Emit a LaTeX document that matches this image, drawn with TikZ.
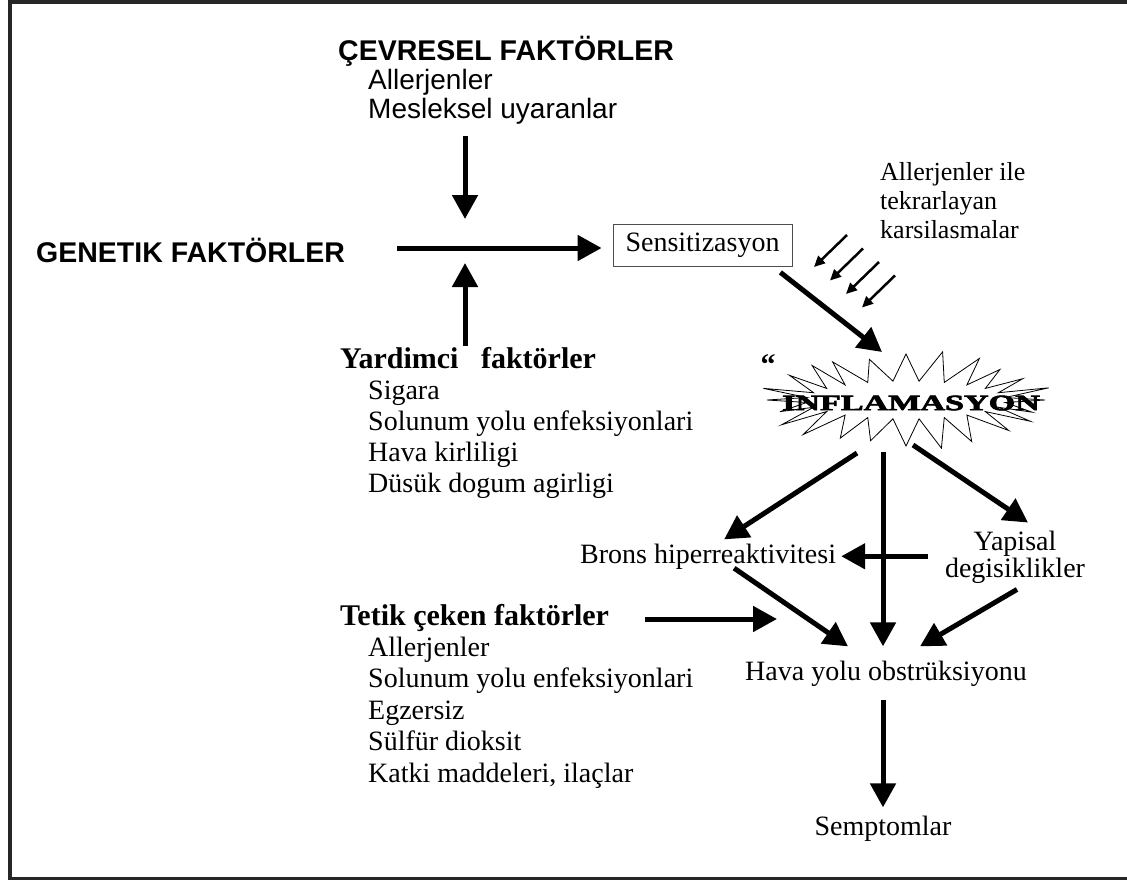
\documentclass[tikz,border=0pt]{standalone}
\usepackage{fontspec}
\setmainfont{Liberation Serif}
\setsansfont{Liberation Sans}
\newfontfamily\burstfont{Liberation Serif Bold}[FakeBold=2.5]
\usetikzlibrary{arrows.meta}

\begin{document}
\begin{tikzpicture}[x=1pt, y=-1pt,
  every node/.style={inner sep=0pt},
  txt/.style={anchor=base west, font=\fontsize{28}{31}\selectfont},
  ctxt/.style={anchor=base, font=\fontsize{28}{31}\selectfont},
  bhead/.style={anchor=base west, font=\bfseries\fontsize{30}{31}\selectfont},
  shead/.style={anchor=base west, font=\sffamily\bfseries\fontsize{28.5}{31}\selectfont},
  stxt/.style={anchor=base west, font=\sffamily\fontsize{28}{31}\selectfont},
  bigarrow/.style={line width=5pt, -{Triangle[length=24pt,width=25pt]}},
  smallarrow/.style={line width=2.5pt, -{Triangle[length=11pt,width=10pt]}}]
\useasboundingbox (0,0) rectangle (1127,880);
% frame
\draw[line width=4pt, black!85] (1127,2) -- (9.5,2) -- (9.5,878.5) -- (1127,878.5);

% left column
\node[shead] (cevre) at (338,61) {ÇEVRESEL FAKTÖRLER};
\foreach \t [count=\i] in {Allerjenler, Mesleksel uyaranlar}
  \node[stxt] (cevre\i) at (368,61+29*\i) {\t};
\node[shead] (genetik) at (36,262) {GENETIK FAKTÖRLER};
\node[bhead] (yard) at (340,368) {Yardimci\ \ \ faktörler};
\foreach \t [count=\i] in {Sigara, Solunum yolu enfeksiyonlari, Hava kirliligi, Düsük dogum agirligi}
  \node[txt] (yard\i) at (368,368+31*\i) {\t};
\node[bhead] (tetik) at (340,625) {Tetik çeken faktörler};
\foreach \t [count=\i] in {Allerjenler, Solunum yolu enfeksiyonlari, Egzersiz, Sülfür dioksit, {Katki maddeleri, ilaçlar}}
  \node[txt] (tetik\i) at (368,625+31.4*\i) {\t};

% right part
\node[draw, line width=0.8pt, black!70, text=black, minimum width=179pt, minimum height=42pt,
  font=\fontsize{28}{31}\selectfont] (sens) at (702.5,245) {Sensitizasyon};
\node[anchor=north west, align=left, font=\fontsize{26}{29}\selectfont] (tekrar) at (880,162)
  {Allerjenler ile\\tekrarlayan\\karsilasmalar};

\coordinate (burst) at (906,400);
\draw[line width=0.8pt] plot[samples at={0,7.5,...,352.5}]
  ({906+(mod(round(\x/7.5),2)==0 ? 148*(0.94+0.06*sin(7*\x)) : 100)*cos(\x)},
   {400-(mod(round(\x/7.5),2)==0 ? 50*(0.92+0.08*cos(5*\x)) : 19)*sin(\x)}) -- cycle;
\node[font=\burstfont\fontsize{22}{24}\selectfont] (infl) at (911,403) {\scalebox{1.55}[1]{INFLAMASYON}};
\node[font=\bfseries\fontsize{30}{30}\selectfont] (quote) at (768,365) {“};

\node[txt] (brons) at (580,563) {Brons hiperreaktivitesi};
\node[align=center, font=\fontsize{28}{27}\selectfont] (yap) at (1015,557) {Yapisal\\degisiklikler};
\node[ctxt] (hava) at (886,680) {Hava yolu obstrüksiyonu};
\node[ctxt] (sempt) at (883,835) {Semptomlar};

% arrows
\coordinate (envtop) at (465,136);
\coordinate (envend) at (465,219);
\coordinate (genstart) at (397,248);
\coordinate (yardtop) at (465,346);
\coordinate (yardend) at (465,263);
\draw[bigarrow] (envtop) -- (envend);
\draw[bigarrow] (yardtop) -- (yardend);
\draw[bigarrow, shorten >=11pt] (genstart) -- (genstart -| sens.west);

\foreach \i in {0,...,3}
  \draw[smallarrow] (847+16*\i,235+13.5*\i) -- ++(-33,32);

\coordinate (burstin) at (882,352);
\coordinate (burstl) at (857,453);
\coordinate (burstm) at (883,452);
\coordinate (burstr) at (913,445);
\draw[bigarrow] ([shift={(-12,6)}]sens.south east) -- (burstin);
\draw[bigarrow] (burstl) -- ([shift={(16,-4)}]brons.north);
\draw[bigarrow] (burstr) -- ([shift={(13,-8)}]yap.north);
\draw[bigarrow, shorten >=14pt] (burstm) -- (burstm |- hava.north);
\draw[bigarrow] ([xshift=-17pt]yap.west |- brons.east) -- ([xshift=5pt]brons.east);
\draw[bigarrow] ([shift={(26,-1)}]brons.south) -- ([shift={(-38,-14)}]hava.north);
\draw[bigarrow] ([shift={(2,6)}]yap.south) -- ([shift={(34,-14)}]hava.north);
\coordinate (tetikend) at (777,619);
\draw[bigarrow] ([xshift=36pt]tetik.east |- tetikend) -- (tetikend);
\draw[bigarrow] ([yshift=-14pt]hava.south -| burstm) -- ([yshift=8pt]sempt.north -| burstm);
\end{tikzpicture}
\end{document}
